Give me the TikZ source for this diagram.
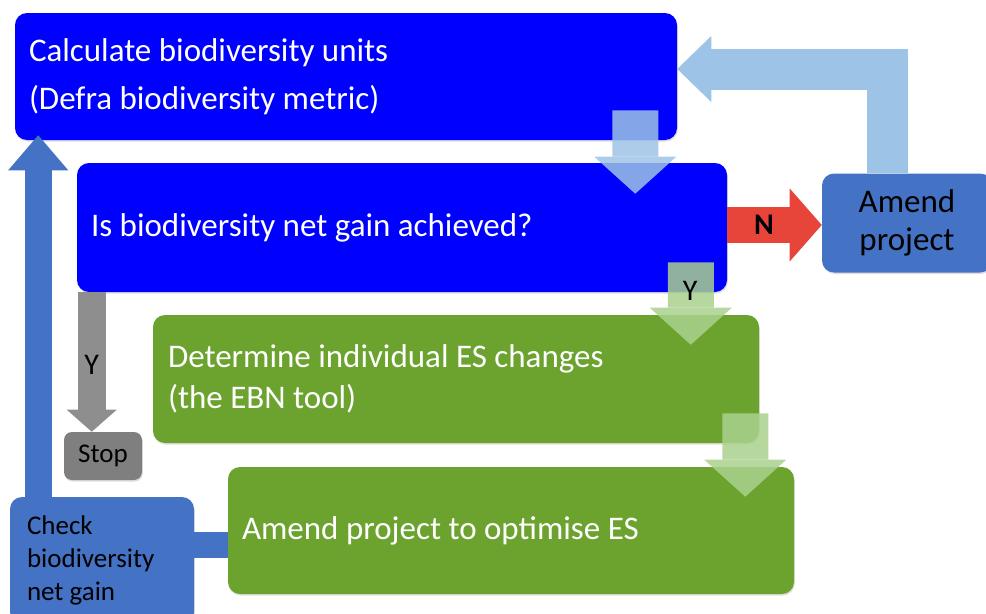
\documentclass[tikz,border=0pt]{standalone}
\usepackage{fontspec}
\setmainfont{Carlito}
\usetikzlibrary{positioning}
\usetikzlibrary{calc}
\usetikzlibrary{arrows.meta}
\usetikzlibrary{shadows}

\definecolor{boxblue}{HTML}{0000FF}
\definecolor{midblue}{HTML}{4472C4}
\definecolor{paleblue}{HTML}{9DC3E6}
\definecolor{boxgreen}{HTML}{6BA32E}
\definecolor{palegreen}{HTML}{A9D18E}
\definecolor{nored}{HTML}{E8453A}
\definecolor{stopgrey}{HTML}{7F7F7F}
\definecolor{armgrey}{HTML}{8E8E8E}

\tikzset{
    shade box/.style={drop shadow={shadow xshift=0.6pt, shadow yshift=-1.2pt, opacity=0.25}},
    bigbox/.style={rounded corners=9pt, inner ysep=0pt, align=flush left, text=white, shade box},
    bluebox/.style={bigbox, fill=boxblue, font=\fontsize{24.75}{36}\selectfont},
    greenbox/.style={bigbox, fill=boxgreen, font=\fontsize{24.75}{30.75}\selectfont},
    midbox/.style={rounded corners=9pt, inner ysep=0pt, fill=midblue, text=black, shade box},
    flowarrow/.style={line width=34.5pt, -{Triangle[width=61.5pt, length=27.75pt, line width=0pt]}},
    labeltext/.style={text=black, inner sep=0pt, font=\fontsize{22.5}{24}\selectfont},
}

\begin{document}
\begin{tikzpicture}[x=0.75pt, y=-0.75pt]
    \useasboundingbox (0,0) rectangle (986,614);

    % boxes
    \node[bluebox, text width=475.5pt, inner xsep=10.5pt, minimum height=95.25pt] (calc) at (346,76.5)
        {Calculate biodiversity units\\(Defra biodiversity metric)};
    \node[bluebox, text width=466.5pt, inner xsep=10.5pt, minimum height=96.75pt] (isgain) at (402,227.5)
        {Is biodiversity net gain achieved?};
    \node[midbox, align=flush center, text width=127.5pt, inner xsep=0pt, minimum height=74.25pt,
        font=\fontsize{24.75}{28.5}\selectfont] (amend) at (907,223) {Amend\\project};
    \node[greenbox, text width=432pt, inner xsep=11.25pt, minimum height=96pt] (determine) at (456,379)
        {Determine individual ES changes\\(the EBN tool)};
    \node[greenbox, text width=403.5pt, inner xsep=10.5pt, minimum height=95.25pt] (optimise) at (511,530.5)
        {Amend project to optimise ES};
    \node[rounded corners=6pt, fill=stopgrey, minimum width=58.5pt, minimum height=36pt, inner sep=0pt,
        font=\fontsize{20.25}{24}\selectfont, shade box] (stop) at (103,456) {Stop};
    \node[midbox, align=flush left, text width=112.5pt, inner xsep=12.75pt, minimum height=95.25pt,
        font=\fontsize{20.25}{25}\selectfont] (check) at (102,560.5) {Check\\biodiversity\\net gain};

    % loop back from the check box
    \draw[midblue, line width=19.5pt] ($(check.east)+(0,-15.5)$) -- ($(optimise.west)+(0,14.5)$);
    \draw[midblue, line width=20.25pt, -{Triangle[width=45pt, length=26.25pt, line width=0pt]}]
        ($(check.north west)+(28.5,0)$) -- ($(calc.south west)+(23.5,-5)$);

    % yes / no branches
    \draw[armgrey, line width=21pt, -{Triangle[width=37.5pt, length=16.5pt, line width=0pt]}]
        ($(isgain.south west)+(15,0)$) -- ($(stop.north west)+(28,0)$)
        node[labeltext, pos=0.52] (ystop) {Y};
    \draw[nored, line width=27pt, -{Triangle[width=54.75pt, length=24pt, line width=0pt]}]
        ($(isgain.east)+(0,-2.5)$) -- ($(amend.west)+(0,2)$)
        node[labeltext, pos=0.39, font=\bfseries\fontsize{22.5}{24}\selectfont] (nlabel) {N};
    \draw[paleblue, line width=30.75pt, -{Triangle[width=49.5pt, length=25.5pt, line width=0pt]}]
        ($(amend.north)+(-20,0)$) |- ($(calc.east)+(0,-7.5)$);

    % steps down the chain
    \begin{scope}[transparency group, opacity=0.85]
        \draw[flowarrow, paleblue] ($(calc.south east)+(-42,-30)$) -- ($(isgain.north east)+(-92,31)$);
    \end{scope}
    \begin{scope}[transparency group, opacity=0.85]
        \draw[flowarrow, palegreen] ($(isgain.south east)+(-36.5,-30)$) -- ($(determine.north east)+(-68.5,30)$);
    \end{scope}
    \begin{scope}[transparency group, opacity=0.85]
        \draw[flowarrow, palegreen] ($(determine.south east)+(-14,-30)$) -- ($(optimise.north east)+(-49,30)$);
    \end{scope}
    \node[labeltext] (ygreen) at ($(isgain.south east)+(-37,-1)$) {Y};
\end{tikzpicture}
\end{document}
